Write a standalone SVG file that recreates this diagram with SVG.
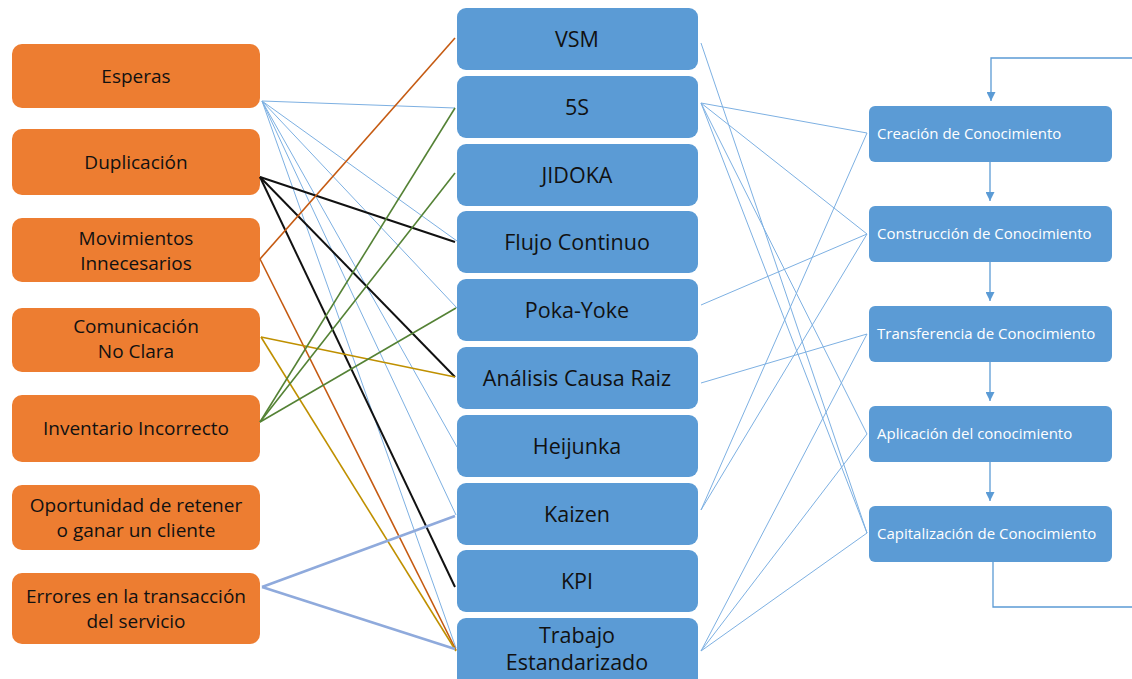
<svg xmlns="http://www.w3.org/2000/svg" width="1132" height="679" viewBox="0 0 1132 679">
<style>
.w{fill:#ED7D31}
.m{fill:#5B9BD5}
.r{fill:#5B9BD5}
.tw{font-family:"Open Sans","Liberation Sans",sans-serif;font-size:19px;fill:#111;text-anchor:middle}
.tm{font-family:"Open Sans","Liberation Sans",sans-serif;font-size:21.5px;fill:#111;text-anchor:middle}
.tr{font-family:"Open Sans","Liberation Sans",sans-serif;font-size:15px;fill:#fff}
.lb{stroke:#7DB0E2;stroke-width:1;fill:none}
.bk{stroke:#111;stroke-width:2;fill:none}
.or{stroke:#C55A11;stroke-width:1.6;fill:none}
.gd{stroke:#BF9000;stroke-width:1.6;fill:none}
.gr{stroke:#548235;stroke-width:1.6;fill:none}
.er{stroke:#8FAADC;stroke-width:2.6;fill:none}
.fl{stroke:#5B9BD5;stroke-width:1.3;fill:none}
</style>
<defs>
<marker id="ah" viewBox="0 0 10 10" refX="10" refY="5" markerWidth="9" markerHeight="9" markerUnits="userSpaceOnUse" orient="auto">
<path d="M0,0 L10,5 L0,10 z" fill="#5B9BD5"/>
</marker>
</defs>
<rect width="1132" height="679" fill="#fff"/>

<g id="left-nodes">
<g id="esperas"><rect class="w" x="12" y="44" width="248" height="64" rx="10"/><text class="tw" x="136" y="83">Esperas</text></g>
<g id="duplicacion"><rect class="w" x="12" y="129" width="248" height="66" rx="10"/><text class="tw" x="136" y="169">Duplicación</text></g>
<g id="movimientos"><rect class="w" x="12" y="218" width="248" height="64" rx="10"/><text class="tw" x="136" y="245">Movimientos</text><text class="tw" x="136" y="270">Innecesarios</text></g>
<g id="comunicacion"><rect class="w" x="12" y="308" width="248" height="64" rx="10"/><text class="tw" x="136" y="333">Comunicación</text><text class="tw" x="136" y="358">No Clara</text></g>
<g id="inventario"><rect class="w" x="12" y="395" width="248" height="67" rx="10"/><text class="tw" x="136" y="435">Inventario Incorrecto</text></g>
<g id="oportunidad"><rect class="w" x="12" y="485" width="248" height="65" rx="10"/><text class="tw" x="136" y="512">Oportunidad de retener</text><text class="tw" x="136" y="537">o ganar un cliente</text></g>
<g id="errores"><rect class="w" x="12" y="573" width="248" height="71" rx="10"/><text class="tw" x="136" y="603">Errores en la transacción</text><text class="tw" x="136" y="628">del servicio</text></g>
</g>

<g id="mid-nodes">
<g id="vsm"><rect class="m" x="457" y="8" width="241" height="62" rx="9"/><text class="tm" x="577" y="47">VSM</text></g>
<g id="s5"><rect class="m" x="457" y="76" width="241" height="62" rx="9"/><text class="tm" x="577" y="115">5S</text></g>
<g id="jidoka"><rect class="m" x="457" y="144" width="241" height="62" rx="9"/><text class="tm" x="577" y="183">JIDOKA</text></g>
<g id="flujo"><rect class="m" x="457" y="211" width="241" height="62" rx="9"/><text class="tm" x="577" y="250">Flujo Continuo</text></g>
<g id="poka"><rect class="m" x="457" y="279" width="241" height="62" rx="9"/><text class="tm" x="577" y="318">Poka-Yoke</text></g>
<g id="analisis"><rect class="m" x="457" y="347" width="241" height="62" rx="9"/><text class="tm" x="577" y="386">Análisis Causa Raiz</text></g>
<g id="heijunka"><rect class="m" x="457" y="415" width="241" height="62" rx="9"/><text class="tm" x="577" y="454">Heijunka</text></g>
<g id="kaizen"><rect class="m" x="457" y="483" width="241" height="62" rx="9"/><text class="tm" x="577" y="522">Kaizen</text></g>
<g id="kpi"><rect class="m" x="457" y="550" width="241" height="62" rx="9"/><text class="tm" x="577" y="589">KPI</text></g>
<g id="trabajo"><rect class="m" x="457" y="618" width="241" height="70" rx="9"/><text class="tm" x="577" y="643">Trabajo</text><text class="tm" x="577" y="670">Estandarizado</text></g>
</g>

<g id="right-nodes">
<g id="creacion"><rect class="r" x="869" y="106" width="243" height="56" rx="6"/><text class="tr" x="877" y="139">Creación de Conocimiento</text></g>
<g id="construccion"><rect class="r" x="869" y="206" width="243" height="56" rx="6"/><text class="tr" x="877" y="239">Construcción de Conocimiento</text></g>
<g id="transferencia"><rect class="r" x="869" y="306" width="243" height="56" rx="6"/><text class="tr" x="877" y="339">Transferencia de Conocimiento</text></g>
<g id="aplicacion"><rect class="r" x="869" y="406" width="243" height="56" rx="6"/><text class="tr" x="877" y="439">Aplicación del conocimiento</text></g>
<g id="capitalizacion"><rect class="r" x="869" y="506" width="243" height="56" rx="6"/><text class="tr" x="877" y="539">Capitalización de Conocimiento</text></g>
</g>

<g id="connectors">
<path class="lb" d="M262,101 L455,108"/>
<path class="lb" d="M262,101 L457,241"/>
<path class="lb" d="M262,101 L457,308"/>
<path class="lb" d="M262,101 L457,447"/>
<path class="lb" d="M262,101 L456,515"/>
<path class="lb" d="M262,101 L456,648"/>
<path class="bk" d="M260,177 L455,242"/>
<path class="bk" d="M260,177 L455,377"/>
<path class="bk" d="M260,177 L455,587"/>
<path class="or" d="M260,259 L455,38"/>
<path class="or" d="M260,259 L456,650"/>
<path class="gd" d="M261,337 L455,377"/>
<path class="gd" d="M261,337 L456,651"/>
<path class="gr" d="M260,422 L455,108"/>
<path class="gr" d="M260,422 L455,173"/>
<path class="gr" d="M260,422 L456,308"/>
<path class="er" d="M262,587 L455,516"/>
<path class="er" d="M262,587 L455,649"/>
<path class="lb" d="M701,43 L867,533"/>
<path class="lb" d="M701,103 L867,133"/>
<path class="lb" d="M701,103 L867,234"/>
<path class="lb" d="M701,103 L867,434"/>
<path class="lb" d="M701,103 L867,533"/>
<path class="lb" d="M701,305 L867,234"/>
<path class="lb" d="M701,383 L867,334"/>
<path class="lb" d="M701,510 L867,133"/>
<path class="lb" d="M701,510 L867,234"/>
<path class="lb" d="M701,651 L867,334"/>
<path class="lb" d="M701,651 L867,434"/>
<path class="lb" d="M701,651 L867,533"/>
<path class="fl" d="M1132,58 L991,58 L991,101" marker-end="url(#ah)"/>
<path class="fl" d="M990,162 L990,201" marker-end="url(#ah)"/>
<path class="fl" d="M990,262 L990,301" marker-end="url(#ah)"/>
<path class="fl" d="M990,362 L990,401" marker-end="url(#ah)"/>
<path class="fl" d="M990,462 L990,501" marker-end="url(#ah)"/>
<path class="fl" d="M993,562 L993,607 L1132,607"/>
</g>
</svg>
